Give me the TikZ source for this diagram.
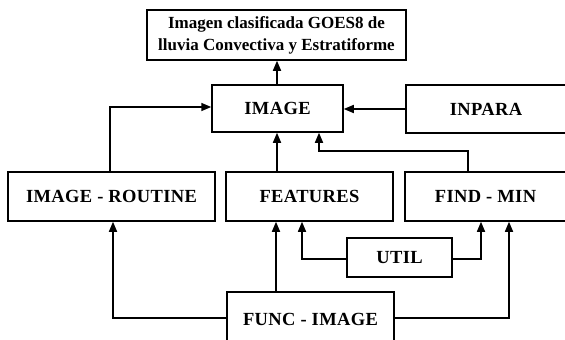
\documentclass[tikz,border=0pt]{standalone}
\usepackage{fontspec}
\setmainfont{Liberation Serif}
\newfontfamily\boxfont{Liberation Serif}[LetterSpace=2]
\usetikzlibrary{arrows.meta}
\begin{document}
\begin{tikzpicture}[x=1pt,y=-1pt,
  box/.style={draw,line width=1.5pt,inner sep=0pt,font=\boxfont\bfseries\fontsize{18.5}{22}\selectfont},
  arr/.style={line width=1.5pt,-{Triangle[length=10pt,width=8pt]}}]
\useasboundingbox (0,0) rectangle (565,340);
\node[box,minimum width=259pt,minimum height=50pt,align=center,font=\bfseries\fontsize{17}{22}\selectfont] (top) at (276.5,35) {Imagen clasificada GOES8 de\\lluvia Convectiva y Estratiforme};
\node[box,minimum width=131pt,minimum height=47pt] (image) at (277.5,108.5) {IMAGE};
\node[box,minimum width=160pt,minimum height=48pt] (inpara) at (486,109) {INPARA};
\node[box,minimum width=207pt,minimum height=49pt] (iroutine) at (111.5,196.5) {IMAGE - ROUTINE};
\node[box,minimum width=167pt,minimum height=49pt] (features) at (309.5,196.5) {FEATURES};
\node[box,minimum width=161pt,minimum height=49pt] (findmin) at (485.5,196.5) {FIND - MIN};
\node[box,minimum width=105pt,minimum height=39pt] (util) at (399.5,257.5) {UTIL};
\node[box,minimum width=167pt,minimum height=54pt] (funcimage) at (310.5,319) {FUNC - IMAGE};
% connectors
\draw[arr] (image.north -| 277,0) -- (top.south -| 277,0);
\draw[arr] (iroutine.north -| 110,0) |- (image.west |- 0,107);
\draw[arr] (inpara.west) -- (image.east |- inpara.west);
\draw[arr] (features.north -| 277,0) -- (image.south -| 277,0);
\draw[arr] (findmin.north -| 468,0) |- (319,151) -- (image.south -| 319,0);
\draw[arr] (funcimage.north -| 276,0) -- (features.south -| 276,0);
\draw[arr] (util.west |- 0,259) -| (features.south -| 302,0);
\draw[arr] (util.east |- 0,259) -| (findmin.south -| 481,0);
\draw[arr] (funcimage.west |- 0,318) -| (iroutine.south -| 113,0);
\draw[arr] (funcimage.east |- 0,318) -| (findmin.south -| 509,0);
\end{tikzpicture}
\end{document}
